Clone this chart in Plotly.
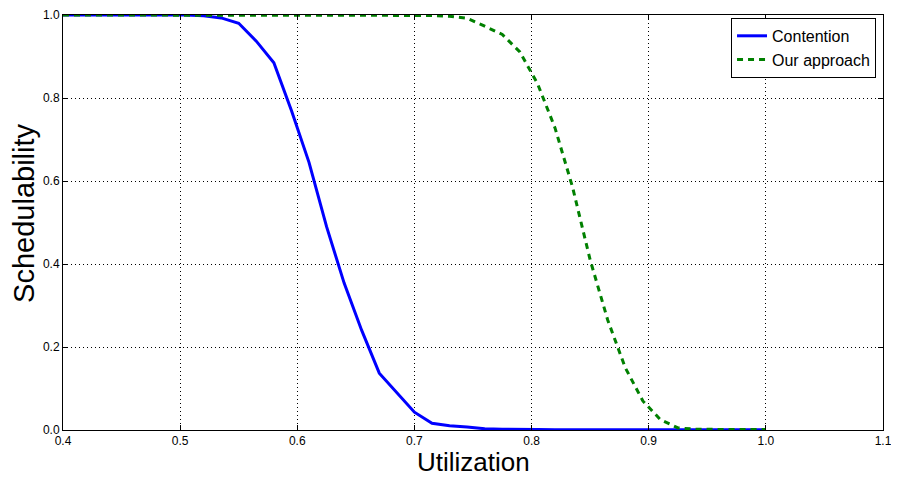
import plotly.graph_objects as go

utilization = [0.4, 0.415, 0.43, 0.445, 0.46, 0.475, 0.49, 0.505, 0.52, 0.535,
               0.55, 0.565, 0.58, 0.595, 0.61, 0.625, 0.64, 0.655, 0.67, 0.685,
               0.7, 0.715, 0.73, 0.745, 0.76, 0.775, 0.79, 0.805, 0.82, 0.835,
               0.85, 0.865, 0.88, 0.895, 0.91, 0.925, 0.94, 0.955, 0.97, 0.985, 1.0]

contention = [1.0, 1.0, 1.0, 1.0, 1.0, 1.0, 1.0, 1.0, 0.998, 0.993,
              0.98, 0.937, 0.885, 0.77, 0.645, 0.49, 0.354, 0.24, 0.137, 0.09,
              0.043, 0.016, 0.01, 0.007, 0.003, 0.002, 0.001, 0.001, 0.0008, 0.0005,
              0.0005, 0.0005, 0.0005, 0.0005, 0.0005, 0.0005, 0.0005, 0.0005, 0.0005, 0.0005, 0.0005]

our_approach = [1.0, 1.0, 1.0, 1.0, 1.0, 1.0, 1.0, 1.0, 1.0, 1.0,
                1.0, 1.0, 1.0, 1.0, 1.0, 1.0, 1.0, 1.0, 1.0, 1.0,
                1.0, 0.999, 0.997, 0.992, 0.973, 0.953, 0.911, 0.835, 0.728, 0.585,
                0.41, 0.265, 0.15, 0.07, 0.025, 0.005, 0.002, 0.001, 0.001, 0.001, 0.001]

x_ticks = [0.4, 0.5, 0.6, 0.7, 0.8, 0.9, 1.0, 1.1]
x_tick_labels = ["0.4", "0.5", "0.6", "0.7", "0.8", "0.9", "1.0", "1.1"]
y_ticks = [0.0, 0.2, 0.4, 0.6, 0.8, 1.0]
y_tick_labels = ["0.0", "0.2", "0.4", "0.6", "0.8", "1.0"]
x_title = "Utilization"
y_title = "Schedulability"

fig = go.Figure()
fig.add_trace(go.Scatter(x=utilization, y=contention, mode="lines", name="Contention",
                         line=dict(color="#0000ff", width=3)))
fig.add_trace(go.Scatter(x=utilization, y=our_approach, mode="lines", name="Our approach",
                         line=dict(color="#008000", width=3, dash="6px,5px")))

font = "Liberation Sans, Arial, sans-serif"
axis_common = dict(showline=True, linecolor="black", linewidth=1, mirror="allticks",
                   ticks="inside", ticklen=5, tickcolor="black", automargin=False,
                   showgrid=True, gridcolor="black", griddash="1px,3px", gridwidth=1,
                   zeroline=False, tickfont=dict(family=font, size=12, color="black"))

# page body has an 8px margin, so the figure is drawn 8px smaller and offset
fig.update_layout(
    width=891, height=469,
    margin=dict(l=55, r=16, t=7, b=47),
    paper_bgcolor="white", plot_bgcolor="white",
    font=dict(family=font, color="black"),
    xaxis=dict(range=[0.4, 1.1], tickvals=x_ticks, ticktext=x_tick_labels, **axis_common),
    yaxis=dict(range=[0, 1], tickvals=y_ticks, ticktext=y_tick_labels, **axis_common),
    legend=dict(x=0.9915, y=0.993, xanchor="right", yanchor="top",
                bordercolor="black", borderwidth=1, bgcolor="white",
                font=dict(size=16, family=font)),
    showlegend=True,
    annotations=[
        dict(text=x_title, xref="paper", yref="paper", x=0.5, y=-0.077,
             xanchor="center", yanchor="middle", showarrow=False,
             font=dict(size=26, family=font, color="black")),
        dict(text=y_title, xref="paper", yref="paper", x=-0.0476, y=0.523,
             xanchor="center", yanchor="middle", showarrow=False, textangle=-90,
             font=dict(size=29, family=font, color="black")),
    ],
)

fig.write_html("out.html")
